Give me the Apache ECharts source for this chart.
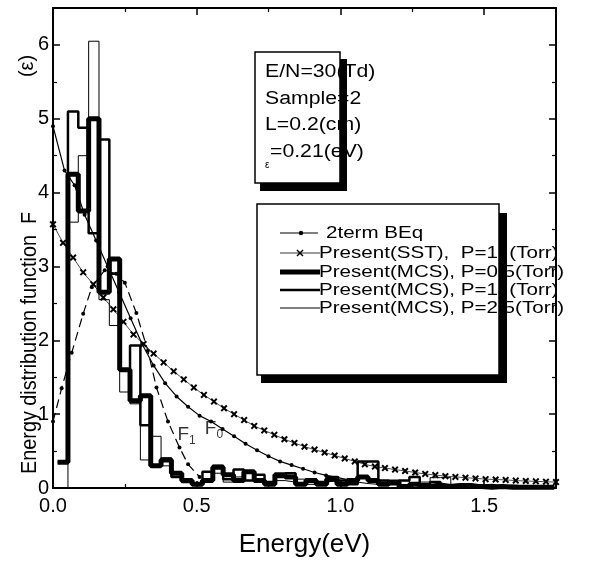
<!DOCTYPE html>
<html>
<head>
<meta charset="utf-8">
<script src="https://cdn.jsdelivr.net/npm/echarts@6/dist/echarts.min.js"></script>
<style>
  html,body{margin:0;padding:0;background:#fff;}
  #chart{width:590px;height:564px;}
</style>
</head>
<body>
<div id="chart"></div>
<script>
// energy axis (eV) of the histogram bins
var binStart = 0.016;
var binWidth = 0.036;

// Present(MCS) histograms, one value per bin
var mcs05 = [0.35, 4.25, 3.75, 5.0, 2.65, 3.1, 1.6, 1.18, 1.25, 0.3, 0.38, 0.2, 0.1, 0.05, 0.1, 0.28,
             0.18, 0.1, 0.22, 0.1, 0.05, 0.18, 0.15, 0.05, 0.1, 0.05, 0.12, 0.05, 0.1, 0.15, 0.1, 0.05,
             0.08, 0.02, 0.05, 0.02, 0.04, 0.02, 0.03, 0.02, 0.02, 0.01, 0.02, 0.01, 0.01, 0.01, 0.01, 0.01];
var mcs1  = [0.35, 5.1, 4.88, 3.45, 4.72, 2.9, 1.6, 1.93, 0.85, 0.3, 0.4, 0.15, 0.08, 0.05, 0.22, 0.3,
             0.12, 0.25, 0.1, 0.18, 0.08, 0.15, 0.2, 0.05, 0.12, 0.08, 0.15, 0.1, 0.05, 0.36, 0.36, 0.1,
             0.05, 0.1, 0.15, 0.05, 0.08, 0.03, 0.05, 0.05, 0.03, 0.04, 0.02, 0.03, 0.02, 0.02, 0.02, 0.02];
var mcs25 = [0, 3.6, 4.5, 6.05, 2.55, 2.2, 1.3, 1.14, 0.38, 0.7, 0.3, 0.15, 0.1, 0.05, 0.12, 0.2,
             0.08, 0.15, 0.1, 0.12, 0.05, 0.1, 0.08, 0.12, 0.05, 0.08, 0.1, 0.05, 0.08, 0.06, 0.05, 0.08,
             0.05, 0.1, 0.05, 0.08, 0.14, 0.14, 0.05, 0.05, 0.04, 0.03, 0.04, 0.03, 0.03, 0.02, 0.02, 0.02];

// Present(SST), sampled every sstStep eV from 0
var sstStep = 0.035;
var sstY = [3.57, 3.32, 3.12, 2.92, 2.76, 2.58, 2.42, 2.25, 2.08, 1.95, 1.82, 1.70, 1.58, 1.47, 1.36, 1.26,
            1.17, 1.08, 1.0, 0.92, 0.84, 0.78, 0.72, 0.66, 0.61, 0.56, 0.52, 0.48, 0.44, 0.40, 0.36, 0.32,
            0.29, 0.27, 0.25, 0.23, 0.21, 0.19, 0.175, 0.16, 0.15, 0.14, 0.13, 0.12, 0.115, 0.11, 0.10,
            0.095, 0.09, 0.085, 0.08];

// 2term BEq : F0 and F1
var f0X = [0, 0.04, 0.075, 0.11, 0.15, 0.19, 0.23, 0.27, 0.31, 0.35, 0.39, 0.43, 0.47, 0.51, 0.55, 0.59,
           0.63, 0.67, 0.71, 0.75, 0.79, 0.83, 0.87, 0.91, 0.95, 0.99, 1.03];
var f0Y = [4.9, 4.3, 4.1, 3.7, 3.35, 3.0, 2.65, 2.3, 1.95, 1.66, 1.42, 1.24, 1.1, 0.98, 0.9, 0.8,
           0.7, 0.6, 0.51, 0.43, 0.36, 0.31, 0.26, 0.21, 0.17, 0.14, 0.11];
var f1X = [0, 0.03, 0.065, 0.105, 0.135, 0.18, 0.22, 0.25, 0.29, 0.33, 0.36, 0.40, 0.44, 0.47, 0.51];
var f1Y = [0.9, 1.35, 1.83, 2.36, 2.72, 2.95, 2.9, 2.78, 2.37, 1.86, 1.36, 0.9, 0.55, 0.32, 0.15];

// curve labels [x, y, subscript]
var curveLabels = [[0.465, 0.72, '1'], [0.56, 0.8, '0']];

var legendNames = ['2term BEq', 'Present(SST),  P=1  (Torr)', 'Present(MCS), P=0.5(Torr)',
                   'Present(MCS), P=1  (Torr)', 'Present(MCS), P=2.5(Torr)'];
var infoLines = ['E/N=30(Td)', 'Sample=2', 'L=0.2(cm)', '=0.21(eV)'];

var xTicks = {min: 0, max: 1.75, interval: 0.5};
var yTicks = {min: 0, max: 6.5, interval: 1};

//--------------------------------------------------
function stepData(vals){
    var out = [];
    for(var i=0;i<vals.length;i++){
        out.push([binStart + binWidth*i, vals[i]]);
    }
    out.push([binStart + binWidth*vals.length, vals[vals.length-1]]);
    return out;
}
function pairs(xs, ys){
    return ys.map(function(v,i){ return [xs[i], v]; });
}
var sstData = sstY.map(function(v,i){ return [sstStep*i, v]; });

var crossSym = 'path://M2,0L5,3L8,0L10,2L7,5L10,8L8,10L5,7L2,10L0,8L3,5L0,2Z';
var fam = '"Liberation Sans", Arial, sans-serif';
var txtFont = '17px ' + fam;

function axisX(pos, showLabel){
    return {
        type:'value', position:pos, min:xTicks.min, max:xTicks.max, interval:xTicks.interval,
        axisLine:{onZero:false, lineStyle:{color:'#000', width:2}},
        axisTick:{inside:true, length:7, lineStyle:{color:'#000', width:1.5}},
        minorTick:{show:true, splitNumber:2, length:4, lineStyle:{color:'#000', width:1.2}},
        splitLine:{show:false},
        axisLabel:{show:showLabel, color:'#000', fontSize:20, margin:8, fontFamily:fam,
            formatter:function(v){ return Math.abs(v*2-Math.round(v*2))<1e-9 ? v.toFixed(1) : ''; }}
    };
}
function axisY(pos, showLabel){
    return {
        type:'value', position:pos, min:yTicks.min, max:yTicks.max, interval:yTicks.interval,
        axisLine:{onZero:false, lineStyle:{color:'#000', width:2}},
        axisTick:{inside:true, length:7, lineStyle:{color:'#000', width:1.5}},
        minorTick:{show:true, splitNumber:2, length:4, lineStyle:{color:'#000', width:1.2}},
        splitLine:{show:false},
        axisLabel:{show:showLabel, color:'#000', fontSize:20, margin:4, fontFamily:fam,
            formatter:function(v){ return Number.isInteger(v) ? String(v) : ''; }}
    };
}

var xBottom = axisX('bottom', true);
xBottom.name = 'Energy(eV)';
xBottom.nameLocation = 'middle';
xBottom.nameGap = 44;
xBottom.nameTextStyle = {color:'#000', fontSize:26, fontFamily:fam};

// legend + info box drawn as graphics
var graphics = [];
// info box
graphics.push({type:'rect', z:7, shape:{x:340, y:59, width:7, height:132}, style:{fill:'#000'}});
graphics.push({type:'rect', z:7, shape:{x:260, y:183, width:87, height:8}, style:{fill:'#000'}});
graphics.push({type:'rect', z:5, shape:{x:255, y:52, width:85, height:131}, style:{fill:'#fff', stroke:'#000', lineWidth:1.5}});
for(var i=0;i<infoLines.length;i++){
    graphics.push({type:'text', z:6, x:(i==3?270:265), y:72+i*26.7, scaleX:1.18,
        style:{text:infoLines[i], font:'18px ' + fam, fill:'#000', verticalAlign:'middle'}});
}
graphics.push({type:'text', z:6, x:265, y:165, style:{text:'ε', font:'10px ' + fam, fill:'#000', verticalAlign:'middle'}});

// legend box
graphics.push({type:'rect', z:7, shape:{x:499, y:213, width:8, height:170}, style:{fill:'#000'}});
graphics.push({type:'rect', z:7, shape:{x:261, y:375, width:246, height:8}, style:{fill:'#000'}});
graphics.push({type:'rect', z:5, shape:{x:257, y:204, width:242, height:171}, style:{fill:'#fff', stroke:'#000', lineWidth:1.5}});
var rowY = [233, 253, 272, 290, 308];
var rowW = [1.2, 0.8, 5, 2.5, 1];
for(var r=0;r<legendNames.length;r++){
    graphics.push({type:'line', z:6, shape:{x1:280, y1:rowY[r], x2:(r==0?318:320), y2:rowY[r]},
        style:{stroke:'#000', lineWidth:rowW[r]}});
    graphics.push({type:'text', z:6, x:(r==0?326:319), y:rowY[r], scaleX:1.21,
        style:{text:legendNames[r], font:txtFont, fill:'#000', verticalAlign:'middle'}});
}
graphics.push({type:'circle', z:6, shape:{cx:301, cy:rowY[0], r:2.2}, style:{fill:'#000'}});
graphics.push({type:'line', z:6, shape:{x1:297, y1:rowY[1]-3, x2:303, y2:rowY[1]+3}, style:{stroke:'#000', lineWidth:1.5}});
graphics.push({type:'line', z:6, shape:{x1:297, y1:rowY[1]+3, x2:303, y2:rowY[1]-3}, style:{stroke:'#000', lineWidth:1.5}});

// y axis title
graphics.push({type:'text', z:6, x:30, y:212, rotation:Math.PI/2, scaleX:0.9,
    style:{text:'Energy distribution function  F', font:'22px ' + fam,
           fill:'#000', align:'right', verticalAlign:'middle'}});
graphics.push({type:'text', z:6, x:27, y:66, rotation:Math.PI/2,
    style:{text:'(ε)', font:'20px ' + fam, fill:'#000', align:'center', verticalAlign:'middle'}});

var option = {
    backgroundColor:'#fff',
    animation:false,
    grid:{left:53, top:8, width:503, height:480, show:false},
    xAxis:[xBottom, axisX('top', false)],
    yAxis:[axisY('left', true), axisY('right', false)],
    graphic:graphics,
    series:[
        {name:'Present(MCS), P=0.5(Torr)', type:'line', step:'end', data:stepData(mcs05), showSymbol:false,
         lineStyle:{color:'#000', width:5}, z:2},
        {name:'Present(MCS), P=1 (Torr)', type:'line', step:'end', data:stepData(mcs1), showSymbol:false,
         lineStyle:{color:'#000', width:2.5}, z:3},
        {name:'Present(MCS), P=2.5(Torr)', type:'line', step:'end', data:stepData(mcs25), showSymbol:false,
         lineStyle:{color:'#000', width:1}, z:4},
        {name:'Present(SST), P=1 (Torr)', type:'line', data:sstData, symbol:crossSym, symbolSize:7,
         itemStyle:{color:'#000'}, lineStyle:{color:'#000', width:0.7}, z:5},
        {name:'2term BEq', type:'line', data:pairs(f0X, f0Y), symbol:'circle', symbolSize:4,
         itemStyle:{color:'#000'}, lineStyle:{color:'#000', width:1.2}, z:5},
        {name:'2term BEq', type:'line', data:pairs(f1X, f1Y), symbol:'circle', symbolSize:4,
         itemStyle:{color:'#000'}, lineStyle:{color:'#000', width:1.2, type:[9,5]}, z:5},
        {type:'scatter', symbolSize:1, itemStyle:{color:'rgba(0,0,0,0)'}, z:6,
         data:curveLabels.map(function(d){ return {value:[d[0], d[1]], sub:d[2]}; }),
         label:{show:true, position:'inside', color:'#000',
            formatter:function(p){ return '{f|F}{s|' + p.data.sub + '}'; },
            rich:{f:{fontSize:19, lineHeight:24, fontFamily:fam},
                  s:{fontSize:12, lineHeight:12, verticalAlign:'bottom', fontFamily:fam}}}}
    ]
};

var myChart = echarts.init(document.getElementById('chart'));
myChart.setOption(option);
</script>
</body>
</html>
